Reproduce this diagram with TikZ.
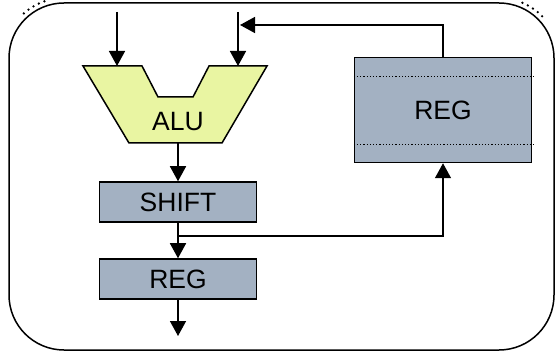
\documentclass[tikz,border=0pt]{standalone}
\usepackage{fontspec}
\setmainfont{Liberation Sans}
\usetikzlibrary{arrows.meta,positioning}
\definecolor{regblue}{HTML}{A3B1C2}
\definecolor{alugreen}{HTML}{E9F5A2}

\begin{document}
\begin{tikzpicture}[x=1pt,y=-1pt,line width=1.5pt,
    arr/.style={-{Triangle[width=16pt,length=15pt]}},
    lbl/.style={font=\fontsize{26.5}{30}\selectfont},
    dots/.style={line width=2.6pt, line cap=round, dash pattern=on 0pt off 6pt},
    block/.style={draw, fill=regblue, inner sep=0pt, lbl}]
  \useasboundingbox (0,0) rectangle (556,352);
  % outer frame
  \draw[rounded corners=55pt] (9,3) rectangle (554,350);
  \draw[dots] (64,58) ++(228:60) arc[start angle=228, end angle=256, radius=60];
  \draw[dots] (499,58) ++(293:60) arc[start angle=293, end angle=320, radius=60];
  % ALU
  \draw[fill=alugreen] (83,66) -- (142,66) -- (158,97) -- (193,97) -- (209,66)
      -- (267,66) -- (222,143) -- (129,143) -- cycle;
  \node[lbl] (alu) at (178,122) {ALU};
  \coordinate (aluout) at (178,143);
  \coordinate (inA) at (117,12);
  \coordinate (inB) at (238,12);
  \coordinate (aluA) at (117,66);
  \coordinate (aluB) at (238,66);
  % registers
  \node[block, minimum width=157pt, minimum height=40pt] (shift) at (178,202) {SHIFT};
  \node[block, minimum width=157pt, minimum height=40pt] (reg) at (178,279) {REG};
  \node[block, minimum width=177pt, minimum height=105pt] (acc) at (443,110) {REG};
  \draw[dotted, line width=1.2pt] ([yshift=-20pt]acc.north west) -- ++(180,0);
  \draw[dotted, line width=1.2pt] ([yshift=19pt]acc.south west) -- ++(180,0);
  \coordinate (out) at (178,336);
  \coordinate (fork) at (178,236);
  % connectors
  \draw[arr] (inA) -- (aluA);
  \draw[arr] (inB) -- (aluB);
  \draw[arr] (acc.north) |- (240,25);
  \draw[arr] (aluout) -- (shift.north);
  \draw[arr] (shift.south) -- (reg.north);
  \draw[arr] (fork) -| (acc.south);
  \draw[arr] (reg.south) -- (out);
\end{tikzpicture}
\end{document}
